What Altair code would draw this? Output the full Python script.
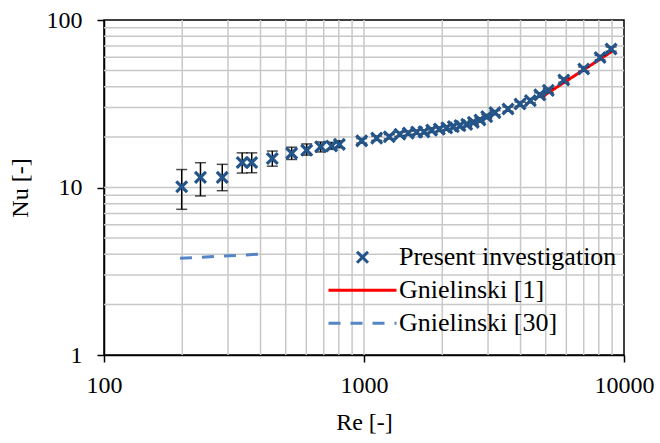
import altair as alt
import pandas as pd

# ---- data ----
names = ["Present investigation", "Gnielinski [1]", "Gnielinski [30]"]

re_exp = [199, 235, 285, 340, 370, 444, 527, 602, 681, 751, 804, 980, 1119, 1251, 1374,
          1480, 1594, 1701, 1821, 1948, 2081, 2205, 2339, 2483, 2633, 2792, 2964, 3190,
          3580, 3981, 4363, 4742, 5117, 5867, 7000, 8091, 8920]
nu_exp = [10.1, 11.5, 11.5, 14.1, 14.1, 14.9, 16.0, 16.7, 17.5, 17.7, 18.1, 19.0, 19.7, 20.1,
          20.8, 21.1, 21.4, 21.5, 22.0, 22.3, 22.7, 23.1, 23.4, 23.8, 24.5, 25.3, 26.5, 28.0,
          29.4, 31.5, 33.0, 35.7, 38.0, 43.8, 51.0, 59.7, 67.1]
nu_lo = [7.41, 8.9, 9.57, 12.2, 12.25, 13.4, 14.7, 15.6, 16.3, 16.9, 17.3, 18.4, 19.1, 19.5,
         20.2, 20.5, 20.8, 20.9, 21.3, 21.6, 22.0, 22.4, 22.7, 23.1, 23.8, 24.5, 25.7, 27.2,
         28.5, 30.6, 32.0, 34.6, 36.9, 42.5, 49.5, 57.9, 65.1]
nu_hi = [12.8, 14.06, 13.75, 16.1, 16.1, 16.5, 17.4, 18.2, 18.7, 18.6, 19.0, 19.6, 20.3, 20.7,
         21.4, 21.7, 22.0, 22.1, 22.7, 23.0, 23.4, 23.8, 24.1, 24.5, 25.2, 26.1, 27.3, 28.8,
         30.3, 32.4, 34.0, 36.8, 39.1, 45.1, 52.5, 61.5, 69.1]

re_g1 = [4800, 9000]
nu_g1 = [34.5, 65.0]

re_g30 = [196, 398]
nu_g30 = [3.78, 4.0]

grid_x = [200, 300, 400, 500, 600, 700, 800, 900, 1000,
          2000, 3000, 4000, 5000, 6000, 7000, 8000, 9000]
grid_y = [2, 3, 4, 5, 6, 7, 8, 9, 10, 20, 30, 40, 50, 60, 70, 80, 90]

x_ticks = [100, 1000, 10000]
y_ticks = [1, 10, 100]

# ---- tables ----
pts = pd.DataFrame({"Re": re_exp, "Nu": nu_exp, "lo": nu_lo, "hi": nu_hi, "series": names[0]})
lines = pd.concat([
    pd.DataFrame({"Re": re_g1, "Nu": nu_g1, "series": names[1]}),
    pd.DataFrame({"Re": re_g30, "Nu": nu_g30, "series": names[2]}),
])
gx = pd.DataFrame({"g": grid_x})
gy = pd.DataFrame({"g": grid_y})

FONT = "Liberation Serif"
xscale = alt.Scale(type="log", domain=[100, 10000], nice=False)
yscale = alt.Scale(type="log", domain=[1, 100], nice=False)

xpath = "M-0.16,-0.16L0.16,0.16M0.16,-0.16L-0.16,0.16"
color_scale = alt.Scale(domain=names, range=["#24558A", "#FF0000", "#5585C5"])
shape_scale = alt.Scale(domain=names, range=[xpath, "stroke", "stroke"])
dash_scale = alt.Scale(domain=names, range=[[1, 0], [1, 0], [12, 10]])

x_axis = alt.Axis(values=x_ticks, format="d", grid=False, title="Re [-]",
                  tickSize=7, labelPadding=11, titlePadding=13, labelFlush=False,
                  labelFont=FONT, titleFont=FONT)
y_axis = alt.Axis(values=y_ticks, format="d", grid=False, title="Nu [-]",
                  tickSize=7, labelPadding=15, titlePadding=14, labelFlush=False,
                  labelFont=FONT, titleFont=FONT)

legend = alt.Legend(title=None, orient="none", legendX=223, legendY=221,
                    symbolSize=4624, symbolStrokeWidth=3, labelOffset=1,
                    clipHeight=32.5, rowPadding=0, labelFont=FONT, labelFontSize=26,
                    labelColor="black", padding=0, labelLimit=400)

grid_v = alt.Chart(gx).mark_rule(color="#c8c8c8", strokeWidth=1.5).encode(
    x=alt.X("g:Q", scale=xscale, axis=x_axis))
grid_h = alt.Chart(gy).mark_rule(color="#c8c8c8", strokeWidth=1.5).encode(
    y=alt.Y("g:Q", scale=yscale, axis=y_axis))

line_layer = alt.Chart(lines).mark_line(strokeWidth=3).encode(
    x=alt.X("Re:Q", scale=xscale, axis=x_axis),
    y=alt.Y("Nu:Q", scale=yscale, axis=y_axis),
    color=alt.Color("series:N", scale=color_scale, legend=legend),
    strokeDash=alt.StrokeDash("series:N", scale=dash_scale, legend=legend),
)

err_rule = alt.Chart(pts).mark_rule(color="black", strokeWidth=1.5).encode(
    x=alt.X("Re:Q", scale=xscale, axis=x_axis),
    y=alt.Y("lo:Q", scale=yscale, axis=y_axis),
    y2="hi:Q",
)
cap_lo = alt.Chart(pts).mark_tick(color="black", orient="horizontal", size=11, thickness=1.5).encode(
    x=alt.X("Re:Q", scale=xscale, axis=x_axis),
    y=alt.Y("lo:Q", scale=yscale, axis=y_axis),
)
cap_hi = alt.Chart(pts).mark_tick(color="black", orient="horizontal", size=11, thickness=1.5).encode(
    x=alt.X("Re:Q", scale=xscale, axis=x_axis),
    y=alt.Y("hi:Q", scale=yscale, axis=y_axis),
)

point_layer = alt.Chart(pts).mark_point(filled=False, size=4624, strokeWidth=3.2, opacity=1).encode(
    x=alt.X("Re:Q", scale=xscale, axis=x_axis),
    y=alt.Y("Nu:Q", scale=yscale, axis=y_axis),
    color=alt.Color("series:N", scale=color_scale, legend=legend),
    shape=alt.Shape("series:N", scale=shape_scale, legend=legend),
)

chart = alt.layer(grid_v, grid_h, line_layer, err_rule, cap_lo, cap_hi, point_layer).properties(
    width=520, height=335,
    autosize=alt.AutoSizeParams(type="none"),
    padding={"left": 104, "top": 20, "right": 36, "bottom": 88},
    background="white",
).configure(
    font=FONT
).configure_view(
    stroke="black", strokeWidth=1.5
).configure_axis(
    domainColor="black", domainWidth=1.5, tickColor="black", tickWidth=1.5,
    labelFont=FONT, labelFontSize=24, labelColor="black",
    titleFont=FONT, titleFontSize=24, titleColor="black", titleFontWeight="normal",
).configure_legend(
    labelFont=FONT
)

chart.save("out.html", embed_options={"renderer": "svg", "actions": False})
